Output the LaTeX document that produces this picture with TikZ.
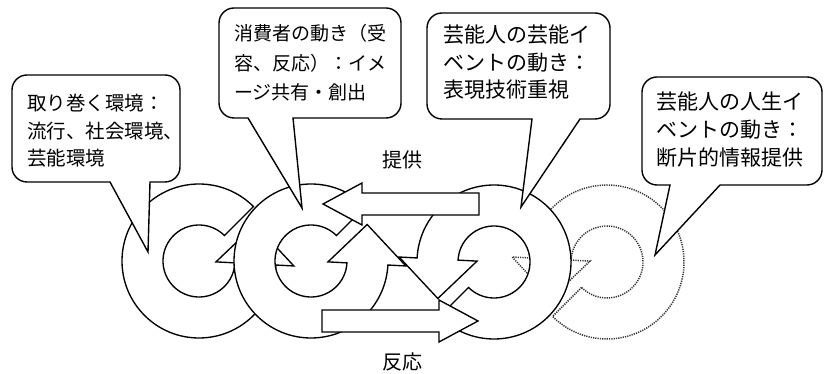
\documentclass[tikz,border=0pt]{standalone}
\usepackage{fontspec}
\newfontfamily\cjk{Noto Sans CJK JP}
\tikzset{
  ring/.style={draw=black, line width=1.35pt, fill=white, line join=miter},
  ringdot/.style={draw=black!80, line width=1.5pt, dash pattern=on 1.2pt off 1.1pt, fill=white, line join=miter},
  bigarrow/.style={draw=black, line width=1.35pt, fill=white, line join=miter},
  bubble/.style={draw=black, line width=1.4pt, fill=white, line join=miter},
  txt/.style={inner sep=0pt, anchor=base west},
  fa/.style={txt, font=\cjk\fontsize{19.5}{24}\selectfont},
  fb/.style={txt, font=\cjk\fontsize{19}{24}\selectfont},
  fc/.style={txt, font=\cjk\fontsize{21}{24}\selectfont},
  lbl/.style={font=\cjk\fontsize{20}{24}\selectfont, inner sep=0pt}
}
% circular arrow: #1 centre, #2 rotation, #3 style
\newcommand{\circarr}[3]{%
  \path[#3, shift={#1}, rotate=#2] (45:36) -- (45:77)
    arc[start angle=45, end angle=357, radius=77] -- (357:95) -- (33:67)
    -- (357:17) -- (357:36) arc[start angle=357, end angle=45, radius=36] -- cycle;}
% speech bubble: L T R B tailL tailR tipx tipy
\newcommand{\bubblepath}[8]{%
  \path[bubble] (#5,#4) -- (#1+15,#4) arc[start angle=270,end angle=180,radius=15]
    -- (#1,#2-15) arc[start angle=180,end angle=90,radius=15]
    -- (#3-15,#2) arc[start angle=90,end angle=0,radius=15]
    -- (#3,#4+15) arc[start angle=0,end angle=-90,radius=15]
    -- (#6,#4) -- (#7,#8) -- cycle;}
\begin{document}
\begin{tikzpicture}[x=1pt,y=1pt]
\useasboundingbox (0,0) rectangle (824,374);
% circular arrows
\circarr{(607,112)}{180}{ringdot}
\circarr{(199,113)}{0}{ring}
\circarr{(494,112)}{180}{ring}
\circarr{(311,113)}{0}{ring}
% big arrows
\path[bigarrow] (479,181) -- (362,181) -- (362,191) -- (323,170) -- (362,149) -- (362,159) -- (479,159) -- cycle;
\path[bigarrow] (322,64) -- (439,64) -- (439,74) -- (478,53) -- (439,32) -- (439,42) -- (322,42) -- cycle;
\node[lbl] (teikyo) at (402,214) {提供};
\node[lbl] (hanno) at (402,12) {反応};
% bubbles
\bubblepath{12}{299}{180}{192}{110}{150}{148}{122}
\bubblepath{219}{366}{401}{256}{248}{293}{302}{166}
\bubblepath{427}{361}{610}{255}{532}{580}{521}{167}
\bubblepath{642}{297}{822}{189}{670}{720}{655}{119}
% texts
\node[fa] (a1) at (27,263.6) {取り巻く環境：};
\node[fa] (a2) at (27,235.6) {流行、社会環境、};
\node[fa] (a3) at (27,208.6) {芸能環境};
\node[fb] (b1) at (234,333.8) {消費者の動き（受};
\node[fb] (b2) at (234,303.8) {容、反応）：イメ};
\node[fb] (b3) at (234,274.8) {ージ共有・創出};
\node[fc] (c1) at (443,331) {芸能人の芸能イ};
\node[fc] (c2) at (443,303) {ベントの動き：};
\node[fc] (c3) at (443,276) {表現技術重視};
\node[fc] (d1) at (656,264) {芸能人の人生イ};
\node[fc] (d2) at (656,236) {ベントの動き：};
\node[fc] (d3) at (656,208) {断片的情報提供};
\end{tikzpicture}
\end{document}
